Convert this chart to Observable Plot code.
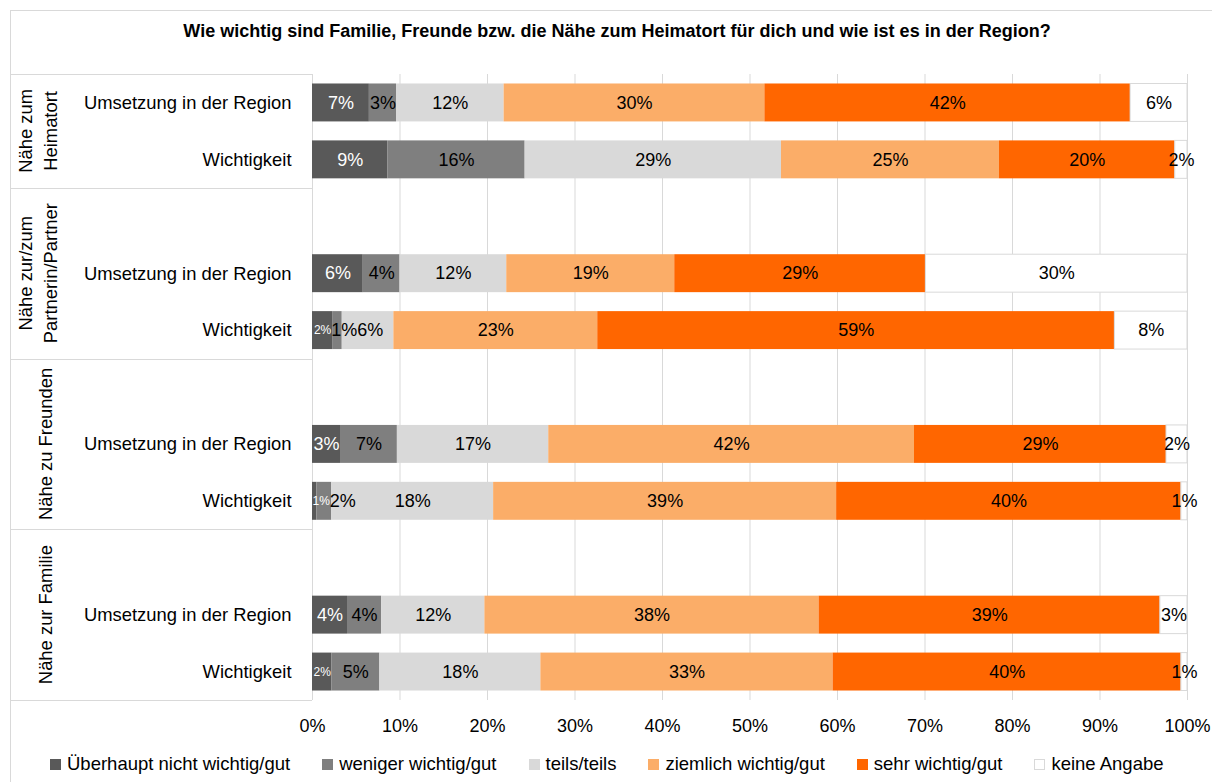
<!DOCTYPE html>
<html><head><meta charset="utf-8">
<script src="https://cdn.jsdelivr.net/npm/d3@7"></script>
<script src="https://cdn.jsdelivr.net/npm/@observablehq/plot@0.6"></script>
<style>
body{margin:0;background:#fff;font-family:"Liberation Sans",Arial,sans-serif;overflow:hidden}
#wrap{position:relative;width:1212px;height:782px;overflow:hidden}
#frame{position:absolute;left:10px;top:10px;width:1300px;height:900px;border:1px solid #d9d9d9;box-sizing:border-box}
#title{position:absolute;top:21px;left:617px;transform:translateX(-50%);white-space:nowrap;font-weight:bold;font-size:18px;color:#000}
#chart{position:absolute;left:0;top:0}
#legend{position:absolute;top:753px;left:50px;display:flex;gap:32px;white-space:nowrap;font-size:18.5px;color:#000}
.item{display:flex;align-items:center;gap:6px}
.sw{width:11px;height:11px;box-sizing:border-box}
</style></head>
<body><div id="wrap"><div id="frame"></div><div id="title"></div><div id="chart"></div><div id="legend"></div></div>
<script>
const title = "Wie wichtig sind Familie, Freunde bzw. die Nähe zum Heimatort für dich und wie ist es in der Region?";
const groups = ["Nähe zum Heimatort", "Nähe zur/zum Partnerin/Partner", "Nähe zu Freunden", "Nähe zur Familie"];
const groupLines = [["Nähe zum", "Heimatort"], ["Nähe zur/zum", "Partnerin/Partner"], ["Nähe zu Freunden"], ["Nähe zur Familie"]];
const rows = ["Umsetzung in der Region", "Wichtigkeit"];
const answers = ["Überhaupt nicht wichtig/gut", "weniger wichtig/gut", "teils/teils", "ziemlich wichtig/gut", "sehr wichtig/gut", "keine Angabe"];
const colors = ["#595959", "#7f7f7f", "#d9d9d9", "#fbad68", "#ff6600", "#ffffff"];
const xTicks = [0, 10, 20, 30, 40, 50, 60, 70, 80, 90, 100];

// shares in percent and the labels shown
const heimatUmsetzung = [6.5, 3.1, 12.3, 29.8, 41.8, 6.5];
const heimatUmsetzungLabels = [7, 3, 12, 30, 42, 6];
const heimatWichtigkeit = [8.6, 15.7, 29.3, 24.9, 20.1, 1.4];
const heimatWichtigkeitLabels = [9, 16, 29, 25, 20, 2];
const partnerUmsetzung = [5.8, 4.2, 12.2, 19.2, 28.7, 29.9];
const partnerUmsetzungLabels = [6, 4, 12, 19, 29, 30];
const partnerWichtigkeit = [2.3, 1.1, 5.9, 23.3, 59.1, 8.3];
const partnerWichtigkeitLabels = [2, 1, 6, 23, 59, 8];
const freundeUmsetzung = [3.2, 6.5, 17.3, 41.8, 28.8, 2.4];
const freundeUmsetzungLabels = [3, 7, 17, 42, 29, 2];
const freundeWichtigkeit = [0.5, 1.7, 18.5, 39.2, 39.4, 0.7];
const freundeWichtigkeitLabels = [1, 2, 18, 39, 40, 1];
const familieUmsetzung = [4.0, 3.9, 11.8, 38.2, 39.0, 3.1];
const familieUmsetzungLabels = [4, 4, 12, 38, 39, 3];
const familieWichtigkeit = [2.2, 5.5, 18.4, 33.4, 39.8, 0.7];
const familieWichtigkeitLabels = [2, 5, 18, 33, 40, 1];

const values = [[heimatUmsetzung, heimatWichtigkeit], [partnerUmsetzung, partnerWichtigkeit], [freundeUmsetzung, freundeWichtigkeit], [familieUmsetzung, familieWichtigkeit]];
const labels = [[heimatUmsetzungLabels, heimatWichtigkeitLabels], [partnerUmsetzungLabels, partnerWichtigkeitLabels], [freundeUmsetzungLabels, freundeWichtigkeitLabels], [familieUmsetzungLabels, familieWichtigkeitLabels]];

document.getElementById("title").textContent = title;

const W = 1212, H = 750, ML = 312, MR = 25, MT = 74, MB = 50;
const FONT = '"Liberation Sans", Arial, sans-serif';
const pxPerUnit = (W - ML - MR) / 100;
const ctx = document.createElement("canvas").getContext("2d");
function measure(t, fs) { ctx.font = fs + "px " + FONT; return ctx.measureText(t).width; }

const slots = [];
groups.forEach((g, gi) => { if (gi > 0) slots.push("gap" + gi); rows.forEach(r => slots.push(g + "|" + r)); });

const segs = [];
groups.forEach((g, gi) => rows.forEach((r, ri) => {
  let c = 0, prevRight = 0;
  values[gi][ri].forEach((v, ai) => {
    const s = {slot: g + "|" + r, answer: answers[ai], ai, x1: c, x2: c + v, label: labels[gi][ri][ai] + "%"};
    const small = ai === 0 && v < 2.5;
    s.fs = small ? 12 : 18;
    const w = measure(s.label, s.fs) / pxPerUnit;
    let cx = (s.x1 + s.x2) / 2;
    if (cx - w / 2 < prevRight) cx = prevRight + w / 2;
    s.lx = cx; prevRight = cx + w / 2;
    segs.push(s);
    c += v;
  });
}));

const plot = Plot.plot({
  width: W, height: H, marginTop: MT, marginBottom: MB, marginLeft: ML, marginRight: MR,
  style: {fontFamily: FONT, fontSize: "18px", color: "#000", background: "transparent", overflow: "visible"},
  x: {domain: [0, 100], label: null},
  y: {domain: slots, paddingInner: 1 / 3, paddingOuter: 1 / 6, round: false, label: null},
  color: {domain: answers, range: colors},
  marks: [
    Plot.ruleX(xTicks, {stroke: "#d9d9d9", strokeWidth: 1}),
    Plot.barX(segs, {x1: "x1", x2: "x2", y: "slot", fill: "answer"}),
    Plot.barX(segs.filter(d => d.ai === 5), {x1: "x1", x2: "x2", y: "slot", fill: "#fff", stroke: "#d9d9d9"}),
    Plot.text(segs.filter(d => d.ai === 0), {x: "lx", y: "slot", text: "label", fill: "#fff", fontSize: d => d.fs}),
    Plot.text(segs.filter(d => d.ai > 0), {x: "lx", y: "slot", text: "label", fill: "#000", fontSize: d => d.fs}),
    Plot.axisX({ticks: xTicks, tickSize: 0, tickPadding: 19, tickFormat: d => d + "%", fontSize: 18, fill: "#000"}),
    Plot.axisY({tickSize: 0, tickPadding: 21, tickFormat: s => s.startsWith("gap") ? "" : s.split("|")[1], fontSize: 18.4, fill: "#000"})
  ]
});
document.getElementById("chart").appendChild(plot);

// group dividers and labels derived from the y scale
const ys = plot.scale("y");
const half = (ys.step - ys.bandwidth) / 2;
const bounds = [ys.apply(slots[0]) - half];
slots.forEach(s => { if (s.startsWith("gap")) bounds.push(ys.apply(s) - half); });
bounds.push(ys.apply(slots[slots.length - 1]) + ys.bandwidth + half);
const svg = d3.select(plot);
const g = svg.append("g");
bounds.forEach(b => g.append("line").attr("x1", 10).attr("x2", ML).attr("y1", Math.round(b) + 0.5).attr("y2", Math.round(b) + 0.5).attr("stroke", "#d9d9d9"));
groupLines.forEach((lines, gi) => {
  const cy = (bounds[gi] + bounds[gi + 1]) / 2;
  const xs = lines.length === 2 ? [26, 51] : [46];
  lines.forEach((t, li) => {
    g.append("text").attr("transform", `translate(${xs[li]},${cy}) rotate(-90)`).attr("text-anchor", "middle").attr("dy", "0.35em")
      .attr("font-size", 18.4).attr("fill", "#000").text(t);
  });
});

// legend
const lg = document.getElementById("legend");
answers.forEach((a, i) => {
  const it = document.createElement("div"); it.className = "item";
  const sw = document.createElement("div"); sw.className = "sw"; sw.style.background = colors[i];
  if (i === 5) sw.style.border = "1px solid #d9d9d9";
  const tx = document.createElement("span"); tx.textContent = a;
  it.appendChild(sw); it.appendChild(tx); lg.appendChild(it);
});
</script></body></html>
